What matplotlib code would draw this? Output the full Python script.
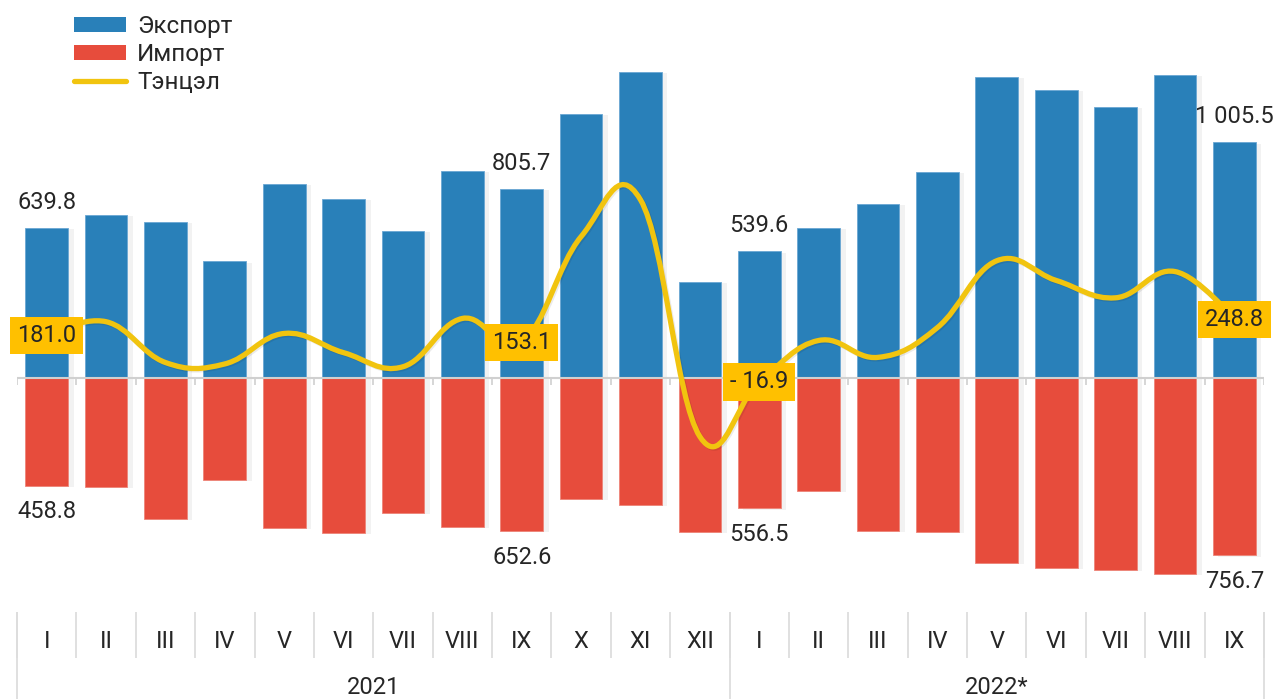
import numpy as np
import matplotlib
matplotlib.use("Agg")
import matplotlib.pyplot as plt
from matplotlib.path import Path
from matplotlib.patches import PathPatch, Patch
from matplotlib.lines import Line2D
import matplotlib.patheffects as pe
import matplotlib.transforms as mtransforms

# ---------------- data ----------------
months = ["I", "II", "III", "IV", "V", "VI", "VII", "VIII", "IX", "X", "XI", "XII",
          "I", "II", "III", "IV", "V", "VI", "VII", "VIII", "IX"]
years = ["2021", "2022*"]
year_counts = [12, 9]

export_vals = [639.8, 695, 665, 497, 827, 763, 627, 883, 805.7, 1126, 1305, 411,
               539.6, 640, 742, 878, 1284, 1228, 1156, 1292, 1005.5]
import_vals = [458.8, 465, 601, 435, 640, 661, 576, 635, 652.6, 516, 542, 657,
               556.5, 482, 652, 657, 789, 810, 819, 836, 756.7]
balance_vals = [181.0, 240, 66, 60, 190, 108, 48, 254, 153.1, 603, 760, -250,
                -16.9, 160, 88, 215, 500, 416, 342, 454, 248.8]

export_labels = {0: "639.8", 8: "805.7", 12: "539.6", 20: "1 005.5"}
import_labels = {0: "458.8", 8: "652.6", 12: "556.5", 20: "756.7"}
balance_labels = {0: "181.0", 8: "153.1", 12: "- 16.9", 20: "248.8"}

series_names = ["Экспорт", "Импорт", "Тэнцэл"]

# ---------------- style ----------------
BLUE = "#2980B9"
RED = "#E74C3C"
YEL = "#F1C40F"
BOX = "#FFC000"
TXT = "#262626"
GRID = "#d0d0d0"
FONT = ["Roboto", "DejaVu Sans"]
plt.rcParams["font.family"] = FONT
FW = "normal"

W, H = 1274, 699
fig = plt.figure(figsize=(W / 100, H / 100), dpi=100)
left_px, right_px = 17, 1264
zero_px = 378
px_per_unit = 0.2345
ax = fig.add_axes([left_px / W, 0, (right_px - left_px) / W, 1])
ax.set_xlim(-0.5, len(months) - 0.5)
ax.set_ylim(-(H - zero_px) / px_per_unit, zero_px / px_per_unit)
ax.axis("off")


def fy(px):
    return 1 - px / H


blend = mtransforms.blended_transform_factory(ax.transData, ax.transAxes)

x = np.arange(len(months))
shadow = [pe.SimplePatchShadow(offset=(4, -1), shadow_rgbFace="k", alpha=0.05), pe.Normal()]
ax.bar(x, export_vals, width=0.72, color=BLUE, edgecolor="#6aa7d3", linewidth=0.6,
       zorder=2, path_effects=shadow)
ax.bar(x, [-v for v in import_vals], width=0.72, color=RED, edgecolor="#ee8478",
       linewidth=0.6, zorder=2, path_effects=shadow)

# zero line + ticks
ax.axhline(0, color=GRID, lw=1.5, zorder=3)
bounds = np.arange(-0.5, len(months), 1.0)
ax.vlines(bounds, fy(zero_px), fy(zero_px + 7), color=GRID, lw=1.2,
          transform=blend, zorder=3)

# smooth balance line (cardinal-type spline through the points)
xs = x.astype(float)
ys = np.array(balance_vals, dtype=float)
n = len(xs)
lc = np.zeros((n, 2))
rc = np.zeros((n, 2))
for i in range(n):
    if i == 0 or i == n - 1:
        lc[i] = rc[i] = (xs[i], ys[i])
        continue
    lcx = (1.5 * xs[i] + xs[i - 1]) / 2.5
    lcy = (1.5 * ys[i] + ys[i - 1]) / 2.5
    rcx = (1.5 * xs[i] + xs[i + 1]) / 2.5
    rcy = (1.5 * ys[i] + ys[i + 1]) / 2.5
    corr = (rcy - lcy) * (rcx - xs[i]) / (rcx - lcx) + ys[i] - rcy
    lc[i] = (lcx, lcy + corr)
    rc[i] = (rcx, rcy + corr)
verts = [(xs[0], ys[0])]
codes = [Path.MOVETO]
for i in range(1, n):
    verts += [tuple(rc[i - 1]), tuple(lc[i]), (xs[i], ys[i])]
    codes += [Path.CURVE4] * 3
ax.add_patch(PathPatch(Path(verts, codes), facecolor="none", edgecolor=YEL,
                       lw=3.8, capstyle="round", joinstyle="round", zorder=4,
                       path_effects=[pe.SimpleLineShadow(offset=(1, -1), alpha=0.08),
                                     pe.Normal()]))

# value labels
for i, s in export_labels.items():
    ax.annotate(s, (i, export_vals[i]), xytext=(0, 18.5), textcoords="offset points",
                ha="center", va="center", fontsize=17, color=TXT, fontweight=FW,
                zorder=6, annotation_clip=False)
for i, s in import_labels.items():
    ax.annotate(s, (i, -import_vals[i]), xytext=(0, -19), textcoords="offset points",
                ha="center", va="center", fontsize=17, color=TXT, fontweight=FW,
                zorder=6, annotation_clip=False)
for i, s in balance_labels.items():
    ax.text(i, balance_vals[i], s, ha="center", va="center", fontsize=17, color=TXT,
            fontweight=FW, zorder=7, clip_on=False,
            bbox=dict(boxstyle="square,pad=0.3", fc=BOX, ec="none"))

# category table
ax.vlines(bounds, fy(612), fy(658), color="#dddddd", lw=1.3, transform=blend,
          clip_on=False)
year_bounds = [-0.5]
for c in year_counts:
    year_bounds.append(year_bounds[-1] + c)
ax.vlines(year_bounds, fy(612), fy(699), color="#dddddd", lw=1.3, transform=blend,
          clip_on=False)
for i, m in enumerate(months):
    ax.text(i, fy(642), m, transform=blend, ha="center", va="center", fontsize=17,
            color=TXT, fontweight=FW, clip_on=False)
for k, yname in enumerate(years):
    cx = (year_bounds[k] + year_bounds[k + 1]) / 2
    ax.text(cx, fy(687), yname, transform=blend, ha="center", va="center",
            fontsize=17, color=TXT, fontweight=FW, clip_on=False)

# legend
handles = [Patch(facecolor=BLUE, edgecolor="none"),
           Patch(facecolor=RED, edgecolor="none"),
           Line2D([0], [0], color=YEL, lw=3.8, solid_capstyle="round")]
leg = fig.legend(handles, series_names, loc="upper left",
                 bbox_to_anchor=(74 / W, 1 - 15 / H), frameon=False, fontsize=17.5,
                 handlelength=2.14, handleheight=0.62, handletextpad=0.45,
                 labelspacing=0.21, borderpad=0, borderaxespad=0)
for t in leg.get_texts():
    t.set_color(TXT)
    t.set_fontweight(FW)

fig.savefig("out.png", dpi=100)
